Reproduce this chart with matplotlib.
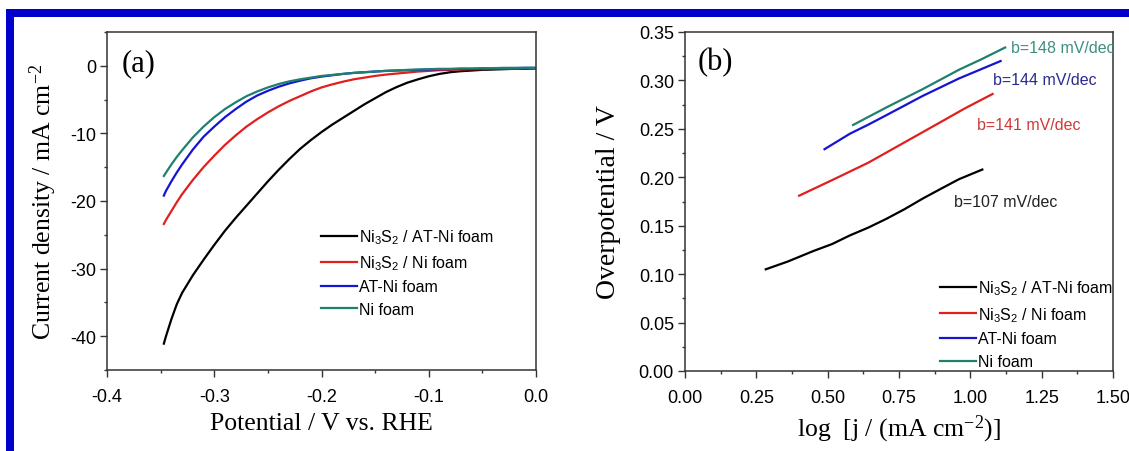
import matplotlib
matplotlib.use("Agg")
import matplotlib.pyplot as plt
from matplotlib.patches import Rectangle
from matplotlib.ticker import MultipleLocator, FormatStrFormatter

plt.rcParams['font.family'] = ['Liberation Sans', 'DejaVu Sans']
plt.rcParams['mathtext.default'] = 'regular'

# ---------------- data ----------------
series_labels = ["Ni$_3$S$_2$ / AT-Ni foam", "Ni$_3$S$_2$ / Ni foam", "AT-Ni foam", "Ni foam"]
series_colors = ["#000000", "#e01f1f", "#1414d2", "#1f8070"]

# panel (a): LSV curves (potential in V vs. RHE, current density in mA cm-2)
pot_a = [-0.347, -0.345, -0.340, -0.335, -0.330, -0.320, -0.310, -0.300, -0.290, -0.280,
         -0.270, -0.260, -0.250, -0.240, -0.230, -0.220, -0.210, -0.200, -0.190, -0.180,
         -0.170, -0.160, -0.150, -0.140, -0.130, -0.120, -0.110, -0.100, -0.090, -0.080,
         -0.070, -0.060, -0.050, -0.040, -0.030, -0.020, -0.010, 0.0]
j_ni3s2_at = [-41.1, -40.0, -37.5, -35.3, -33.6, -31.0, -28.7, -26.5, -24.4, -22.5,
              -20.7, -18.9, -17.1, -15.4, -13.8, -12.3, -11.0, -9.8, -8.7, -7.7,
              -6.7, -5.7, -4.8, -3.9, -3.15, -2.5, -2.0, -1.55, -1.2, -0.95,
              -0.8, -0.7, -0.6, -0.55, -0.5, -0.45, -0.45, -0.4]
j_ni3s2_ni = [-23.4, -22.8, -21.5, -20.2, -19.0, -16.9, -15.0, -13.3, -11.7, -10.3,
              -9.0, -7.9, -6.9, -6.0, -5.2, -4.5, -3.8, -3.2, -2.75, -2.35,
              -2.0, -1.75, -1.5, -1.3, -1.15, -1.0, -0.85, -0.75, -0.65, -0.6,
              -0.55, -0.5, -0.5, -0.45, -0.45, -0.45, -0.4, -0.4]
j_at_ni = [-19.2, -18.5, -17.1, -15.8, -14.6, -12.4, -10.5, -9.0, -7.6, -6.4,
           -5.3, -4.4, -3.7, -3.1, -2.6, -2.2, -1.85, -1.6, -1.4, -1.2,
           -1.05, -0.95, -0.85, -0.75, -0.7, -0.65, -0.6, -0.55, -0.5, -0.5,
           -0.45, -0.45, -0.4, -0.4, -0.35, -0.35, -0.3, -0.3]
j_ni = [-16.3, -15.8, -14.6, -13.5, -12.5, -10.6, -9.0, -7.6, -6.4, -5.4,
        -4.5, -3.8, -3.2, -2.7, -2.3, -2.0, -1.75, -1.5, -1.35, -1.2,
        -1.05, -0.95, -0.85, -0.75, -0.7, -0.6, -0.55, -0.5, -0.45, -0.45,
        -0.4, -0.4, -0.35, -0.35, -0.3, -0.3, -0.3, -0.3]

# panel (b): Tafel plots
logj_ni3s2_at = [0.283, 0.36, 0.451, 0.515, 0.578, 0.642, 0.705, 0.769, 0.833, 0.896, 0.960, 1.042]
eta_ni3s2_at = [0.105, 0.113, 0.124, 0.131, 0.140, 0.148, 0.157, 0.167, 0.178, 0.188, 0.198, 0.208]
logj_ni3s2_ni = [0.40, 0.515, 0.642, 0.769, 0.896, 0.980, 1.078]
eta_ni3s2_ni = [0.181, 0.197, 0.215, 0.236, 0.257, 0.271, 0.286]
logj_at_ni = [0.489, 0.578, 0.640, 0.705, 0.833, 0.960, 1.106]
eta_at_ni = [0.229, 0.245, 0.254, 0.264, 0.284, 0.302, 0.320]
logj_ni = [0.589, 0.705, 0.833, 0.960, 1.040, 1.122]
eta_ni = [0.254, 0.272, 0.291, 0.311, 0.322, 0.334]

tafel_texts = ["b=107 mV/dec", "b=141 mV/dec", "b=144 mV/dec", "b=148 mV/dec"]
tafel_text_x = [0.944, 1.023, 1.080, 1.144]
tafel_text_y = [0.175, 0.254, 0.301, 0.334]
tafel_text_colors = ["#222222", "#d03838", "#2a2a8e", "#3e8f80"]

# ---------------- figure ----------------
W, H = 1129, 452
fig = plt.figure(figsize=(W / 100, H / 100), dpi=100)
fig.patch.set_facecolor('white')

# blue frame
blue = '#0000cd'
fig.patches.append(Rectangle((6 / W, 1 - 18 / H), 1 - 6 / W, 8 / H, transform=fig.transFigure,
                             facecolor=blue, edgecolor='none', zorder=0))
fig.patches.append(Rectangle((6 / W, 0), 8 / W, 1 - 10 / H, transform=fig.transFigure,
                             facecolor=blue, edgecolor='none', zorder=0))

ax1 = fig.add_axes([107 / W, 1 - 371 / H, (536 - 107) / W, (371 - 33) / H])
ax2 = fig.add_axes([685 / W, 1 - 372 / H, (1113 - 685) / W, (372 - 33) / H])

serif = ['Liberation Serif', 'DejaVu Serif']
tick_fs = 13
lab_fs = 18.5
leg_fs = 11.5

def style(ax):
    for s in ax.spines.values():
        s.set_linewidth(1.1)
        s.set_color('#333333')
    ax.tick_params(which='both', direction='out', top=False, right=False,
                   colors='#333333', labelcolor='black', labelsize=tick_fs, width=1.0)
    ax.tick_params(which='major', length=5)
    ax.tick_params(which='minor', length=2.5)
    ax.tick_params(axis='x', pad=8)
    ax.tick_params(axis='y', pad=3)

# panel (a)
ys_a = [j_ni3s2_at, j_ni3s2_ni, j_at_ni, j_ni]
for y, c, lab in zip(ys_a, series_colors, series_labels):
    ax1.plot(pot_a, y, color=c, lw=1.6, label=lab)
ax1.set_xlim(-0.4, 0.0)
ax1.set_ylim(-45, 5)
ax1.xaxis.set_minor_locator(MultipleLocator(0.05))
ax1.yaxis.set_minor_locator(MultipleLocator(5))
ax1.set_xticks([-0.4, -0.3, -0.2, -0.1, 0.0])
ax1.set_xticklabels(['-0.4', '-0.3', '-0.2', '-0.1', '0.0'])
ax1.set_yticks([0, -10, -20, -30, -40])
ax1.set_yticklabels(['0', '-10', '-20', '-30', '-40'])
style(ax1)
ax1.set_xlabel('Potential / V vs. RHE', family=serif, fontsize=lab_fs, labelpad=5)
ax1.set_ylabel('Current density / mA cm$^{-2}$', family=serif, fontsize=lab_fs, labelpad=8)
ax1.text(0.033, 0.91, '(a)', transform=ax1.transAxes, family=serif, fontsize=22,
         ha='left', va='center')
ax1.legend(loc='upper left', bbox_to_anchor=(0.499, 0.421), frameon=False,
           fontsize=leg_fs, handlelength=2.25, handletextpad=0.15, labelspacing=0.45,
           borderpad=0, borderaxespad=0)

# panel (b)
xs_b = [logj_ni3s2_at, logj_ni3s2_ni, logj_at_ni, logj_ni]
ys_b = [eta_ni3s2_at, eta_ni3s2_ni, eta_at_ni, eta_ni]
for x, y, c, lab in zip(xs_b, ys_b, series_colors, series_labels):
    ax2.plot(x, y, color=c, lw=1.6, label=lab)
ax2.set_xlim(0.0, 1.5)
ax2.set_ylim(0.0, 0.35)
ax2.xaxis.set_major_locator(MultipleLocator(0.25))
ax2.xaxis.set_minor_locator(MultipleLocator(0.125))
ax2.yaxis.set_major_locator(MultipleLocator(0.05))
ax2.yaxis.set_minor_locator(MultipleLocator(0.025))
ax2.xaxis.set_major_formatter(FormatStrFormatter('%.2f'))
ax2.yaxis.set_major_formatter(FormatStrFormatter('%.2f'))
style(ax2)
ax2.set_xlabel(r'log  [j / (mA cm$^{-2}$)]', family=serif, fontsize=lab_fs, labelpad=5)
ax2.set_ylabel('Overpotential / V', family=serif, fontsize=20, labelpad=13)
ax2.text(0.03, 0.914, '(b)', transform=ax2.transAxes, family=serif, fontsize=22,
         ha='left', va='center')
for t, x, y, c in zip(tafel_texts, tafel_text_x, tafel_text_y, tafel_text_colors):
    ax2.text(x, y, t, color=c, fontsize=leg_fs, ha='left', va='center', clip_on=True)
ax2.legend(loc='upper left', bbox_to_anchor=(0.596, 0.274), frameon=False,
           fontsize=leg_fs, handlelength=2.25, handletextpad=0.15, labelspacing=0.5,
           borderpad=0, borderaxespad=0)

fig.savefig('out.png', dpi=100)
